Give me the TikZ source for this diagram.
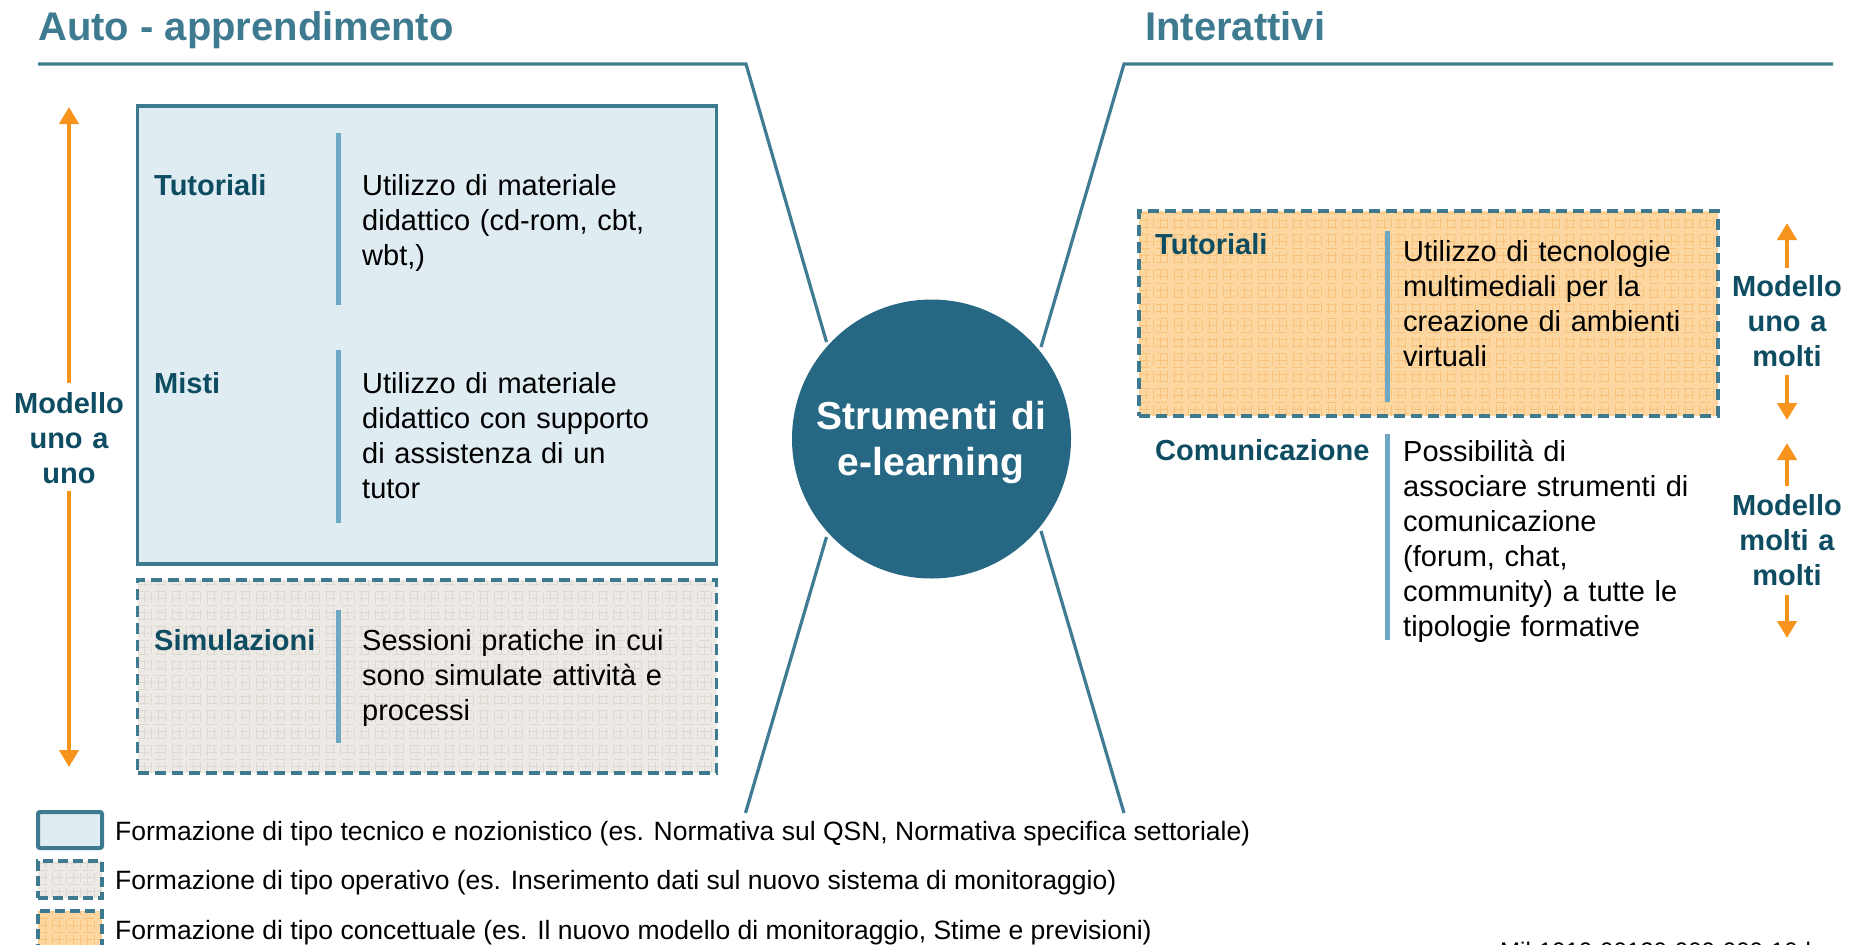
\documentclass[tikz,border=0pt]{standalone}
\usepackage{fontspec}
\setmainfont{Liberation Sans}
\usetikzlibrary{arrows.meta}
\definecolor{titlec}{HTML}{3E7B91}
\definecolor{linec}{HTML}{3F7B92}
\definecolor{circlec}{HTML}{266883}
\definecolor{borderc}{HTML}{3D7A90}
\definecolor{bluefill}{HTML}{DFECF2}
\definecolor{barc}{HTML}{6EA7C3}
\definecolor{labelc}{HTML}{0E4C62}
\definecolor{orangec}{HTML}{F7941D}
\definecolor{orbg}{HTML}{FDD7A2}
\definecolor{orgrid}{HTML}{F9C27A}
\definecolor{grbg}{HTML}{EDE9E5}
\definecolor{grgrid}{HTML}{DED8D2}
\tikzset{
  headline/.style={draw=linec, line width=3.2pt},
  bluebox/.style={draw=borderc, line width=3.5pt, fill=bluefill, inner sep=0pt},
  gridfill/.style 2 args={path picture={
    \fill[#1] (path picture bounding box.south west) rectangle (path picture bounding box.north east);
    \foreach \k in {0,...,90} {\draw[#2, line width=0.6pt] ([xshift=\k*7pt]path picture bounding box.south west) -- ([xshift=\k*7pt]path picture bounding box.north west);}
    \foreach \k in {0,...,35} {\draw[#2, line width=0.6pt] ([yshift=\k*7pt]path picture bounding box.south west) -- ([yshift=\k*7pt]path picture bounding box.south east);}
  }},
  dashbox/.style={draw=borderc, line width=3.5pt, dash pattern=on 11pt off 6pt, inner sep=0pt},
  oarrow/.style={draw=orangec, line width=4.5pt, -{Triangle[length=17pt,width=19pt]}},
  sepbar/.style={draw=barc, line width=5pt},
  lab/.style={text=labelc, font=\bfseries\fontsize{29}{35}\selectfont, inner sep=0pt, anchor=base west},
  desc/.style={font=\fontsize{29}{35}\selectfont, inner sep=0pt, anchor=north west, align=left, text width=360pt},
  model/.style={text=labelc, font=\bfseries\fontsize{29}{35}\selectfont, inner sep=0pt, anchor=north, align=center, text width=130pt},
  title/.style={text=titlec, font=\bfseries\fontsize{40}{48}\selectfont, inner sep=0pt, anchor=base west},
  legtext/.style={font=\fontsize{26.5}{32}\selectfont, inner sep=0pt, anchor=base west},
}
\begin{document}
\begin{tikzpicture}[x=1pt,y=-1pt]
\useasboundingbox (0,0) rectangle (1858,945);
\fill[white] (0,0) rectangle (1858,945);

% titles
\node[title] (t1) at (38,40) {Auto - apprendimento};
\node[title] (t2) at (1145,40) {Interattivi};

% header lines and diagonals
\coordinate (hl0) at (38,64);
\coordinate (hl1) at (746,64);
\coordinate (hl2) at (826.5,342);
\coordinate (hr0) at (1833,64);
\coordinate (hr1) at (1124,64);
\coordinate (hr2) at (1041,347);
\coordinate (ll0) at (826.5,537);
\coordinate (ll1) at (745.5,813);
\coordinate (lr0) at (1041,531);
\coordinate (lr1) at (1124,813);
\draw[headline] (hl0) -- (hl1) -- (hl2);
\draw[headline] (hr0) -- (hr1) -- (hr2);
\draw[headline] (ll0) -- (ll1);
\draw[headline] (lr0) -- (lr1);

% central circle
\node[circle, fill=circlec, minimum size=279pt, inner sep=0pt] (core) at (931.5,439) {};
\node[anchor=north, text=white, font=\bfseries\fontsize{39}{46}\selectfont, align=center, text width=260pt, inner sep=0pt] (coretext) at (931,396.8) {\strut Strumenti di\\e-learning};

% left blue box
\node[bluebox, minimum width=578.9pt, minimum height=458pt] (autobox) at (427.05,335) {};
\draw[sepbar] (338,133) -- (338,305);
\draw[sepbar] (338,350) -- (338,523);
\node[lab] (tut1) at (154,195) {Tutoriali};
\node[lab] (misti) at (154,393) {Misti};
\node[desc] (tut1d) at (362,170.5) {\strut Utilizzo di materiale\\didattico (cd-rom, cbt,\\wbt,)};
\node[desc] (mistid) at (362,368.5) {\strut Utilizzo di materiale\\didattico con supporto\\di assistenza di un\\tutor};

% grey box
\node[dashbox, gridfill={grbg}{grgrid}, minimum width=578.9pt, minimum height=193pt] (simbox) at (427.05,676.5) {};
\draw[sepbar] (338,610) -- (338,743);
\node[lab] (sim) at (154,650) {Simulazioni};
\node[desc] (simd) at (362,625.5) {\strut Sessioni pratiche in cui\\sono simulate attività e\\processi};

% left arrows
\node[model] (mleft) at (69,388.5) {\strut Modello\\uno a\\uno};
\coordinate (la0) at (69,383);
\coordinate (la1) at (69,107);
\coordinate (lb0) at (69,491);
\coordinate (lb1) at (69,767);
\draw[oarrow] (la0) -- (la1);
\draw[oarrow] (lb0) -- (lb1);

% right orange box
\node[dashbox, gridfill={orbg}{orgrid}, minimum width=579pt, minimum height=205pt] (intbox) at (1428.5,313.5) {};
\draw[sepbar] (1387,231) -- (1387,402);
\node[lab] (tut2) at (1155,254) {Tutoriali};
\node[desc, text width=300pt] (tut2d) at (1403,236.5) {\strut Utilizzo di tecnologie\\multimediali per la\\creazione di ambienti\\virtuali};

% comunicazione
\draw[sepbar] (1387,434) -- (1387,640);
\node[lab] (com) at (1155,460) {Comunicazione};
\node[desc, text width=300pt] (comd) at (1403,436.5) {\strut Possibilità di\\associare strumenti di\\comunicazione\\(forum, chat,\\community) a tutte le\\tipologie formative};

% right models
\node[model] (mr1) at (1787,271.5) {\strut Modello\\uno a\\molti};
\coordinate (ra0) at (1787,268);
\coordinate (ra1) at (1787,223);
\coordinate (rb0) at (1787,375);
\coordinate (rb1) at (1787,420);
\draw[oarrow] (ra0) -- (ra1);
\draw[oarrow] (rb0) -- (rb1);
\node[model] (mr2) at (1787,490.5) {\strut Modello\\molti a\\molti};
\coordinate (rc0) at (1787,486);
\coordinate (rc1) at (1787,443);
\coordinate (rd0) at (1787,595);
\coordinate (rd1) at (1787,638);
\draw[oarrow] (rc0) -- (rc1);
\draw[oarrow] (rd0) -- (rd1);

% legend
\node[bluebox, line width=4pt, rounded corners=2pt, minimum width=64pt, minimum height=36pt] (leg1) at (70,830) {};
\node[legtext] (leg1t) at (115,840.5) {Formazione di tipo tecnico e nozionistico (es. Normativa sul QSN, Normativa specifica settoriale)};
\node[dashbox, line width=4pt, dash pattern=on 10pt off 5pt, gridfill={grbg}{grgrid}, minimum width=64pt, minimum height=37pt] (leg2) at (70,879.5) {};
\node[legtext] (leg2t) at (115,889) {Formazione di tipo operativo (es. Inserimento dati sul nuovo sistema di monitoraggio)};
\node[dashbox, line width=4pt, dash pattern=on 10pt off 5pt, gridfill={orbg}{orgrid}, minimum width=64pt, minimum height=49pt] (leg3) at (70,935.5) {};
\node[legtext] (leg3t) at (115,939) {Formazione di tipo concettuale (es. Il nuovo modello di monitoraggio, Stime e previsioni)};

% cut-off reference
\node[anchor=base west, inner sep=0pt, font=\fontsize{24}{28}\selectfont] (ref) at (1500,959) {Mil-1010-00120-000-000-10-l};
\end{tikzpicture}
\end{document}
